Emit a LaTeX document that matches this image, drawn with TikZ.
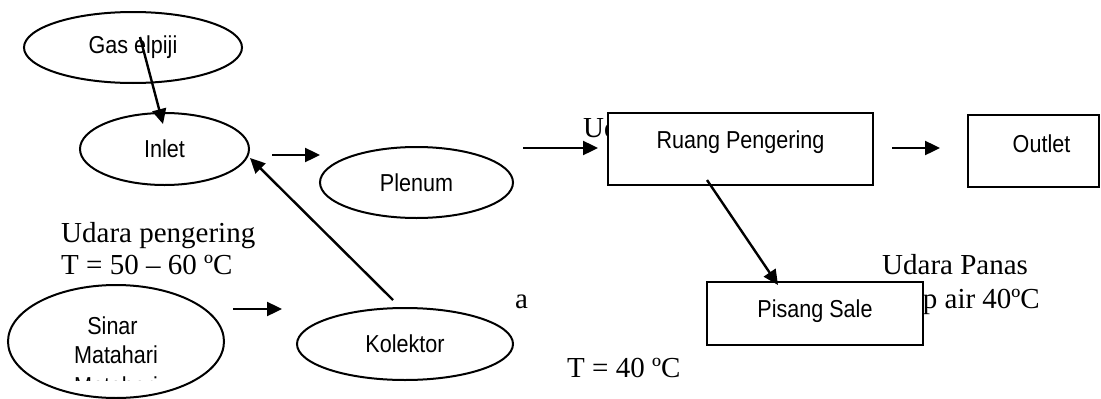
\documentclass[tikz,border=0pt]{standalone}
\usepackage{fontspec}
\setmainfont{Liberation Serif}
\newfontfamily\arialn[FakeStretch=0.88]{Liberation Sans}
\usetikzlibrary{shapes.geometric,arrows.meta}
\begin{document}
\begin{tikzpicture}[x=1pt,y=-1pt,
  sanslabel/.style={font=\arialn\fontsize{24.5}{29}\selectfont},
  serlabel/.style={font=\fontsize{29}{32}\selectfont, inner sep=0pt},
  oval/.style={draw, ellipse, line width=2pt, inner sep=0pt, sanslabel},
  boxnode/.style={draw, rectangle, line width=2pt, inner sep=0pt, fill=white, sanslabel},
  flow/.style={draw, line width=2.4pt, -{Triangle[length=15pt,width=14pt]}}
]
\useasboundingbox (0,0) rectangle (1101,399);

% ellipses
\node[oval, minimum width=218pt, minimum height=71pt] (gas) at (133,47.5) {Gas elpiji};
\node[oval, minimum width=169pt, minimum height=72pt] (inlet) at (164.5,149) {Inlet};
\node[oval, minimum width=193pt, minimum height=71pt] (plenum) at (416.5,182.5) {Plenum};
\node[oval, minimum width=216pt, minimum height=72pt] (kolektor) at (405,344) {Kolektor};
\node[oval, minimum width=216pt, minimum height=113pt] (sinar) at (116,341.5) {};

% texts partly hidden behind boxes
\node[serlabel, anchor=base west] (udara1) at (583,137) {Udara};
\node[serlabel, anchor=base east] (uapair) at (1040,308) {Uap air 40ºC};

% boxes
\node[boxnode, minimum width=265pt, minimum height=72pt, text height=18pt, text depth=20pt] (ruang) at (740.5,149) {Ruang Pengering};
\node[boxnode, minimum width=131pt, minimum height=72pt, text height=18pt, text depth=16pt] (outlet) at (1033.5,151) {\hspace*{16pt}Outlet};
\node[boxnode, minimum width=216pt, minimum height=63pt, text height=18pt, text depth=11pt] (pisang) at (815,313.5) {Pisang Sale};

% Sinar Matahari text
\node[sanslabel, anchor=base, inner sep=0pt] (sinarA) at (112.5,334) {Sinar};
\node[sanslabel, anchor=base, inner sep=0pt] (sinarB) at (116,363) {Matahari};
\begin{scope}
  \clip (0,0) rectangle (300,380);
  \node[sanslabel, anchor=base, inner sep=0pt] (sinarC) at (116,394) {Matahari};
\end{scope}

% serif labels
\node[serlabel, anchor=base west] (udpeng) at (61,242) {Udara pengering};
\node[serlabel, anchor=base west] (t5060) at (61,274) {T = 50 – 60 ºC};
\node[serlabel, anchor=base west] (alabel) at (515,308) {a};
\node[serlabel, anchor=base west] (t40) at (567,377) {T = 40 ºC};
\node[serlabel, anchor=base west] (udpanas) at (882,274) {Udara Panas};

% connector ends
\coordinate (gasS) at (140,37);
\coordinate (inletT) at (163,124);
\coordinate (inletR) at (272,155);
\coordinate (plenumL) at (320,155);
\coordinate (plenumR) at (523,148);
\coordinate (ruangL) at (598,148);
\coordinate (ruangR) at (892,148);
\coordinate (outletL) at (940,148);
\coordinate (ruangB) at (707,180);
\coordinate (pisangT) at (778,285);
\coordinate (kolT) at (393,300);
\coordinate (inletE) at (250,158);
\coordinate (sinarR) at (233,309);
\coordinate (kolL) at (282,309);

% connectors
\draw[flow] (gasS) -- (inletT);
\draw[flow] (inletR) -- (plenumL);
\draw[flow] (plenumR) -- (ruangL);
\draw[flow] (ruangR) -- (outletL);
\draw[flow] (ruangB) -- (pisangT);
\draw[flow] (kolT) -- (inletE);
\draw[flow] (sinarR) -- (kolL);
\end{tikzpicture}
\end{document}
